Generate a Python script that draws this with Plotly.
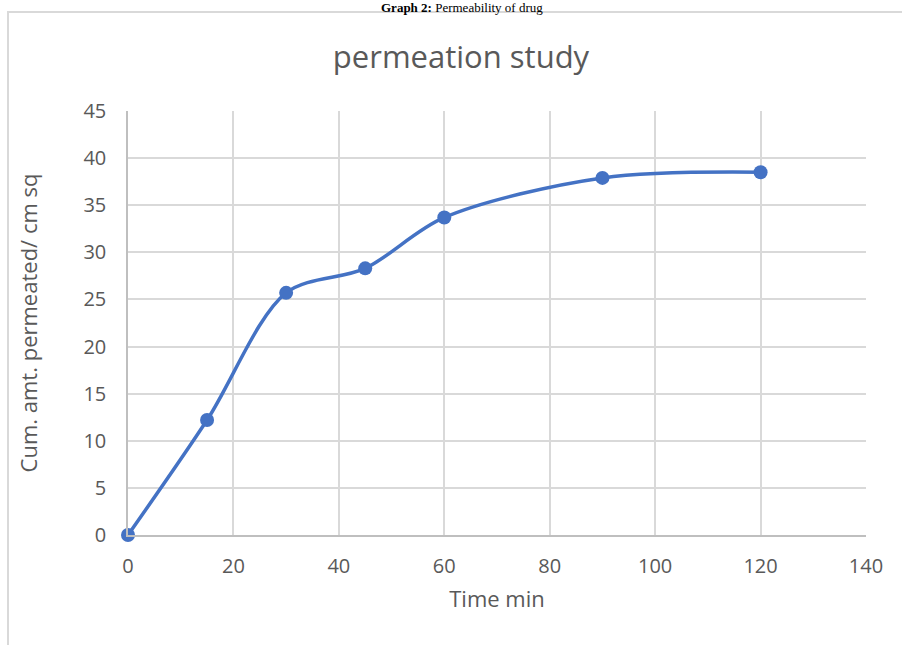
import plotly.graph_objects as go

time_min = [0, 15, 30, 45, 60, 90, 120]
cum_amt = [0, 12.2, 25.7, 28.3, 33.7, 37.9, 38.5]
x_ticks = [0, 20, 40, 60, 80, 100, 120, 140]
y_ticks = [0, 5, 10, 15, 20, 25, 30, 35, 40, 45]

W, H = 902, 645
L, R, T, B = 128, 36, 111, 110
pw, ph = W - L - R, H - T - B

def px(x):
    return (x - L) / pw

def py(y):
    return (H - B - y) / ph

fig = go.Figure()
fig.add_trace(go.Scatter(
    x=time_min, y=cum_amt, mode="lines+markers",
    line=dict(color="#4472C4", width=3.5, shape="spline", smoothing=0.9),
    marker=dict(color="#4472C4", size=14),
    cliponaxis=False, showlegend=False,
))

font_main = "Open Sans, Liberation Sans, sans-serif"
fig.update_layout(
    width=W, height=H,
    margin=dict(l=L, r=R, t=T, b=B),
    paper_bgcolor="white", plot_bgcolor="white",
    font=dict(family=font_main, color="#595959"),
    title=dict(text="permeation study", xref="paper", x=px(461), xanchor="center",
               yref="container", y=1 - 57 / H, yanchor="middle",
               font=dict(size=31, color="#595959", family=font_main)),
    xaxis=dict(range=[0, 140], tickvals=x_ticks, showgrid=True,
               gridcolor="#d9d9d9", gridwidth=1.5, zeroline=False,
               showline=True, linecolor="#bfbfbf", linewidth=1.5,
               ticks="", ticklabelstandoff=12,
               tickfont=dict(size=20, color="#595959"),
               title=dict(text="Time min", font=dict(size=22, color="#595959"), standoff=14)),
    yaxis=dict(range=[0, 45], tickvals=y_ticks, showgrid=True,
               gridcolor="#d9d9d9", gridwidth=1.5, zeroline=False,
               showline=True, linecolor="#bfbfbf", linewidth=1.5,
               ticks="", ticklabelstandoff=16,
               tickfont=dict(size=20, color="#595959"),
               title=dict(text="Cum. amt. permeated/ cm sq", font=dict(size=22, color="#595959"), standoff=40)),
)

# outer chart border (partially cropped)
fig.add_shape(type="rect", xref="paper", yref="paper",
              x0=px(8), x1=px(915), y0=py(660), y1=py(12),
              line=dict(color="#d9d9d9", width=2), layer="below")

# caption above the chart
fig.add_annotation(xref="paper", yref="paper", x=px(462), y=py(-2),
                   xanchor="center", yanchor="top", showarrow=False,
                   text="<b>Graph 2:</b> Permeability of drug",
                   font=dict(family="Liberation Serif, Times New Roman, serif", size=13, color="black"))

fig.write_html("out.html", config={"displayModeBar": False},
               post_script="document.body.style.margin='0';")
